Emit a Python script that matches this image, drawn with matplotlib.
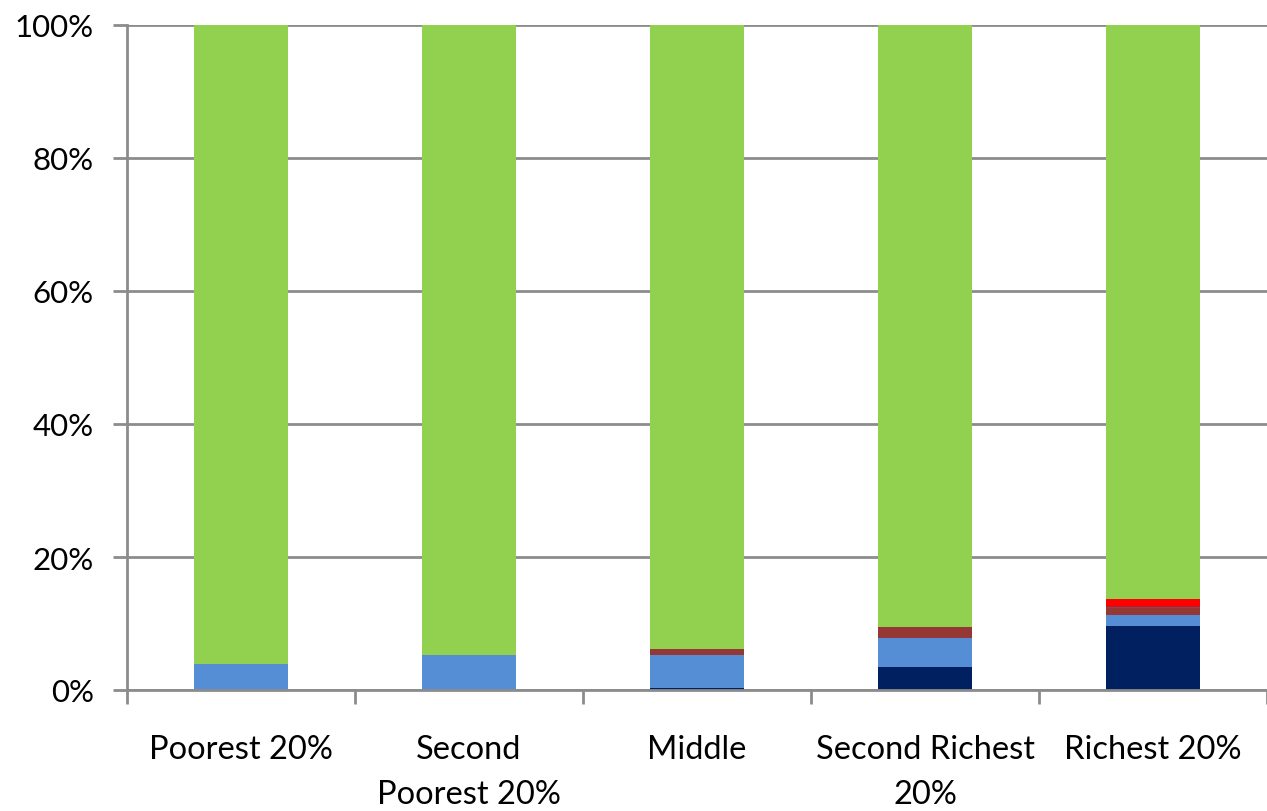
import matplotlib
matplotlib.use("Agg")
import matplotlib.pyplot as plt
import numpy as np

categories = ["Poorest 20%", "Second\nPoorest 20%", "Middle", "Second Richest\n20%", "Richest 20%"]
navy = [0.0, 0.0, 0.3, 3.5, 9.6]
blue = [3.9, 5.3, 4.95, 4.3, 1.7]
brown = [0.0, 0.0, 0.9, 1.7, 1.0]
thin = [0.0, 0.0, 0.0, 0.0, 0.15]
red = [0.0, 0.0, 0.0, 0.0, 1.2]
green = [100 - (a + b + c + d + e) for a, b, c, d, e in zip(navy, blue, brown, thin, red)]

series = [navy, blue, brown, thin, red, green]
colors = ["#002060", "#558ED5", "#953735", "#5A5A78", "#FF0000", "#92D050"]

plt.rcParams['font.family'] = ['Lato', 'DejaVu Sans']

W, H = 1267, 812
fig = plt.figure(figsize=(W / 100, H / 100), dpi=100)
left, right, top, bottom = 127, 1267, 26, 691
ax = fig.add_axes([left / W, 1 - bottom / H, (right - left) / W, (bottom - top) / H])

x = np.arange(len(categories))
bottoms = np.zeros(len(categories))
for vals, c in zip(series, colors):
    v = np.array(vals, dtype=float)
    ax.bar(x, v, bottom=bottoms, width=0.408, color=c, linewidth=0, zorder=3)
    bottoms += v

step = 230.5
ax.set_xlim(-0.5, -0.5 + (right - left) / step)
ax.set_ylim(0, 100)
ax.set_yticks(np.arange(0, 101, 20))
ax.set_yticklabels([f"{v}%" for v in range(0, 101, 20)], fontsize=22.5)
ax.yaxis.grid(True, color="#8C8C8C", linewidth=2, zorder=1)
ax.set_axisbelow(True)

ax.set_xticks(np.arange(-0.5, 5, 1.0))
ax.set_xticklabels([])
ax.set_xticks(x, minor=True)
ax.set_xticklabels(categories, minor=True, fontsize=23.5, linespacing=1.6, va="top")
ax.tick_params(axis="x", which="minor", length=0, pad=32)
ax.tick_params(axis="x", which="major", length=10, width=2, color="#8C8C8C", direction="out")
ax.tick_params(axis="y", length=10, width=2, color="#8C8C8C", direction="out", pad=14)

for s in ["top", "right"]:
    ax.spines[s].set_visible(False)
for s in ["left", "bottom"]:
    ax.spines[s].set_color("#8C8C8C")
    ax.spines[s].set_linewidth(2)
    ax.spines[s].set_zorder(4)

fig.savefig("out.png", dpi=100)
